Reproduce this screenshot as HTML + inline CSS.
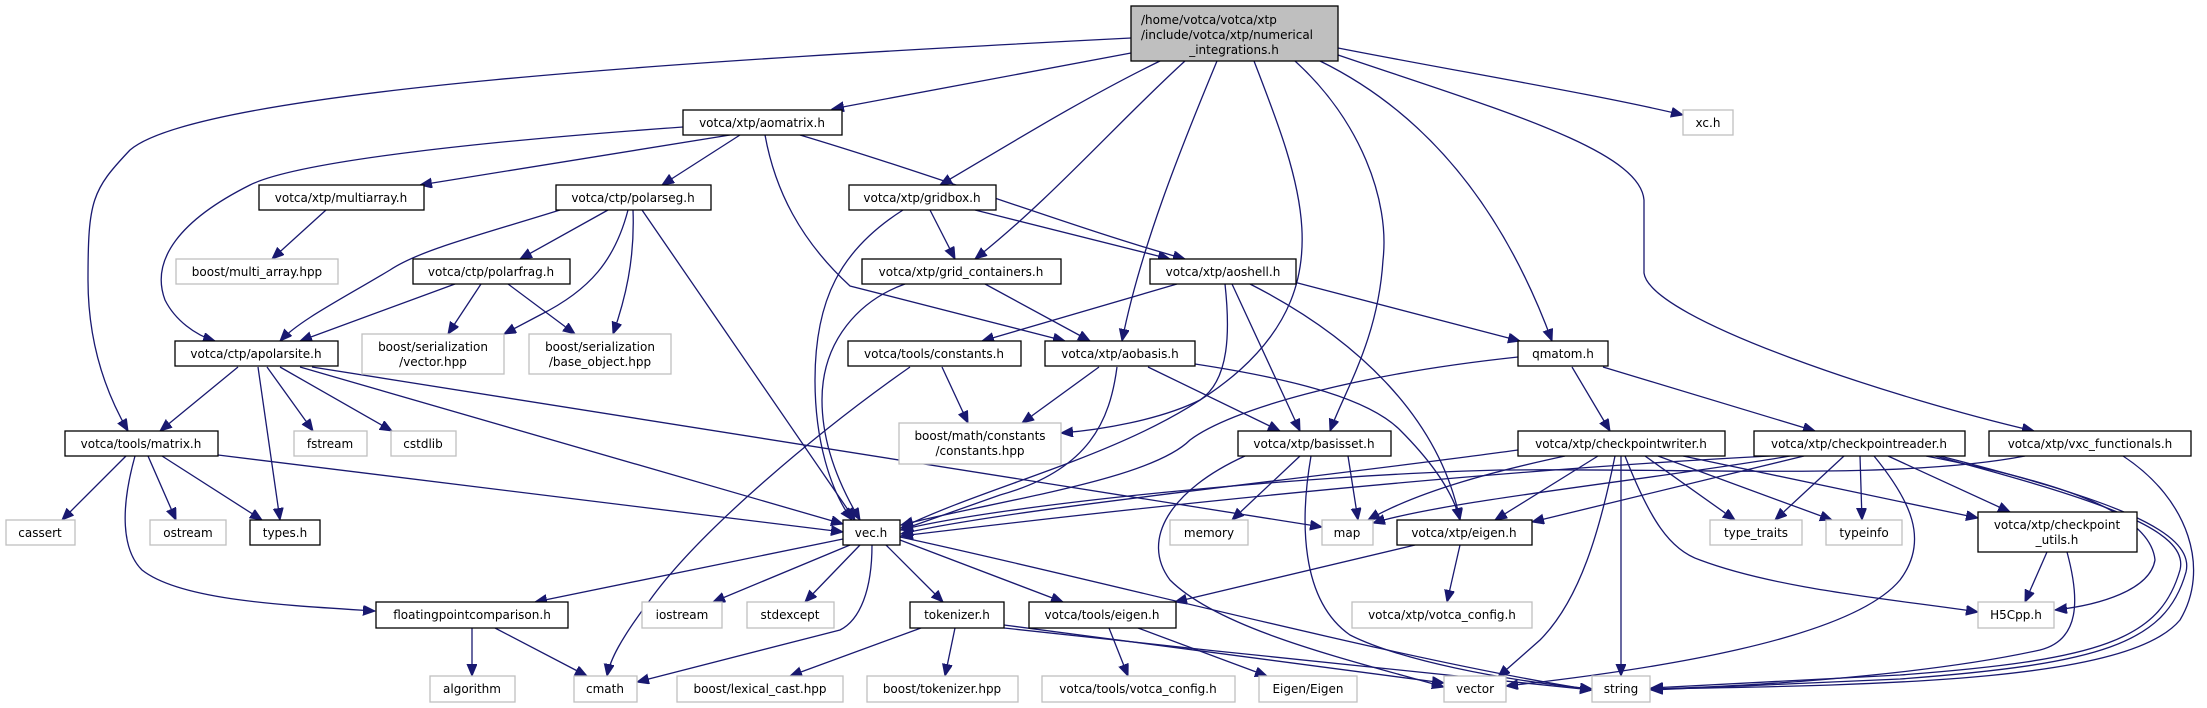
<!DOCTYPE html>
<html><head><meta charset="utf-8"><style>
html,body{margin:0;padding:0;background:#fff;}
svg{display:block;}
text{font-family:"DejaVu Sans","Liberation Sans",sans-serif;font-size:12px;fill:#000;}
.e{fill:none;stroke:#191970;stroke-width:1.3;marker-end:url(#a);}
.b{fill:#fff;stroke:#000;stroke-width:1.3;}
.g{fill:#fff;stroke:#bfbfbf;stroke-width:1.3;}
</style></head><body>
<svg width="2207" height="708" viewBox="0 0 2207 708" xmlns="http://www.w3.org/2000/svg">
<defs><marker id="a" markerUnits="userSpaceOnUse" markerWidth="14" markerHeight="12" refX="12" refY="5" orient="auto"><path d="M0,0 L12,5 L0,10 z" fill="#191970" stroke="#191970"/></marker></defs>

<!-- edges -->
<path class="e" d="M1131,38 C700,60 200,90 130,150 C92,190 88,200 88,280 C88,350 110,400 128,431"/>
<path class="e" d="M1131,53 L832,109"/>
<path class="e" d="M1160,61 C1080,100 1000,150 940,185"/>
<path class="e" d="M1185,61 C1120,120 1050,200 975,259"/>
<path class="e" d="M1217,61 C1180,150 1140,250 1122,341"/>
<path class="e" d="M1254,61 C1300,180 1340,280 1240,370 C1150,450 1000,480 901,528"/>
<path class="e" d="M1295,61 C1360,120 1390,200 1383,260 C1378,340 1345,390 1330,431"/>
<path class="e" d="M1320,61 C1420,110 1500,200 1552,341"/>
<path class="e" d="M1338,55 C1500,110 1640,150 1644,200 L1644,273 C1650,320 1900,400 2034,431"/>
<path class="e" d="M1338,48 C1450,70 1600,95 1683,115"/>

<path class="e" d="M730,135 L420,185"/>
<path class="e" d="M740,135 L662,185"/>
<path class="e" d="M800,135 C950,180 1080,230 1185,259"/>
<path class="e" d="M683,127 C500,140 300,160 250,185 C180,220 150,260 165,300 C175,320 195,335 215,341"/>
<path class="e" d="M765,135 C775,190 800,240 850,286 L1065,341"/>
<path class="e" d="M326,210 L272,259"/>
<path class="e" d="M608,210 L520,259"/>
<path class="e" d="M560,210 C480,235 420,250 390,270 C340,300 300,320 280,341"/>
<path class="e" d="M628,210 C615,260 590,290 540,315 L504,334"/>
<path class="e" d="M633,210 C635,260 625,300 613,334"/>
<path class="e" d="M642,210 L855,520"/>
<path class="e" d="M455,284 L300,341"/>
<path class="e" d="M481,284 L448,334"/>
<path class="e" d="M508,284 L575,334"/>
<path class="e" d="M930,210 L955,259"/>
<path class="e" d="M975,210 L1170,259"/>
<path class="e" d="M903,210 C840,250 815,300 815,380 C815,440 830,490 852,520"/>
<path class="e" d="M985,284 L1090,341"/>
<path class="e" d="M905,284 C860,300 822,340 822,400 C822,450 845,495 860,520"/>
<path class="e" d="M1177,284 L982,341"/>
<path class="e" d="M1225,284 C1230,330 1230,380 1200,400 C1160,420 1100,430 1061,433"/>
<path class="e" d="M1232,284 L1300,431"/>
<path class="e" d="M1250,284 C1360,340 1440,420 1460,520"/>
<path class="e" d="M1290,281 L1520,341"/>
<path class="e" d="M942,367 L968,423"/>
<path class="e" d="M910,367 C820,430 700,530 650,600 C620,640 610,660 607,676"/>
<path class="e" d="M1099,367 L1022,423"/>
<path class="e" d="M1117,367 C1110,420 1090,470 1000,495 L901,530"/>
<path class="e" d="M1148,367 L1280,431"/>
<path class="e" d="M1195,364 C1300,380 1370,400 1400,430 C1440,470 1455,500 1460,520"/>

<path class="e" d="M238,367 L160,431"/>
<path class="e" d="M258,367 L280,520"/>
<path class="e" d="M267,367 L313,431"/>
<path class="e" d="M280,367 L392,431"/>
<path class="e" d="M300,367 L843,524"/>
<path class="e" d="M312,367 C500,400 900,460 1322,527"/>
<path class="e" d="M126,456 L62,520"/>
<path class="e" d="M148,456 L176,520"/>
<path class="e" d="M162,456 L262,520"/>
<path class="e" d="M135,456 C120,510 122,550 142,570 C180,600 280,605 375,611"/>
<path class="e" d="M218,455 L843,532"/>
<path class="e" d="M1518,357 C1350,375 1230,410 1190,440 C1150,480 1000,500 901,525"/>
<path class="e" d="M1572,367 L1610,431"/>
<path class="e" d="M1603,367 L1815,431"/>
<path class="e" d="M1300,456 L1232,520"/>
<path class="e" d="M1348,456 L1358,520"/>
<path class="e" d="M1245,456 C1170,490 1140,540 1170,580 C1220,630 1350,660 1444,687"/>
<path class="e" d="M1311,456 C1300,520 1300,600 1350,635 C1400,660 1500,680 1592,689"/>

<path class="e" d="M1518,450 C1300,480 1000,510 901,534"/>
<path class="e" d="M1565,456 C1500,470 1420,490 1368,520"/>
<path class="e" d="M1598,456 L1495,520"/>
<path class="e" d="M1645,456 L1735,520"/>
<path class="e" d="M1658,456 L1832,520"/>
<path class="e" d="M1683,456 L1978,518"/>
<path class="e" d="M1625,456 C1650,520 1670,550 1700,560 C1780,590 1900,600 1978,612"/>
<path class="e" d="M1615,456 C1600,530 1580,600 1540,640 L1498,677"/>
<path class="e" d="M1621,456 L1621,676"/>
<path class="e" d="M1770,456 C1500,470 1200,500 901,536"/>
<path class="e" d="M1790,456 C1650,480 1450,500 1373,523"/>
<path class="e" d="M1804,456 L1532,522"/>
<path class="e" d="M1844,456 L1775,520"/>
<path class="e" d="M1860,456 L1862,520"/>
<path class="e" d="M1888,456 L2010,512"/>
<path class="e" d="M1926,456 C2050,480 2150,510 2155,560 C2150,590 2100,605 2055,610"/>
<path class="e" d="M1874,456 C1910,500 1930,540 1900,580 C1850,640 1650,670 1506,686"/>
<path class="e" d="M1935,456 C2100,500 2190,530 2180,570 C2160,640 2100,660 1900,675 L1651,688"/>
<path class="e" d="M1940,456 C2105,498 2196,530 2186,572 C2166,644 2100,664 1900,679 L1651,690"/>
<path class="e" d="M2025,456 C1900,480 1700,468 1500,470 C1300,475 1000,505 901,530"/>
<path class="e" d="M2123,456 C2190,500 2210,570 2180,620 C2130,680 1900,685 1651,689"/>
<path class="e" d="M2047,552 L2025,602"/>
<path class="e" d="M2067,552 C2080,600 2080,640 2040,650 C1950,670 1800,685 1651,689"/>
<path class="e" d="M1415,545 L1175,602"/>
<path class="e" d="M1460,545 L1447,602"/>

<path class="e" d="M843,539 L535,602"/>
<path class="e" d="M850,545 L713,602"/>
<path class="e" d="M860,545 L805,602"/>
<path class="e" d="M872,545 C872,590 860,620 840,630 L637,682"/>
<path class="e" d="M886,545 L943,602"/>
<path class="e" d="M900,540 L1063,602"/>
<path class="e" d="M900,537 C1100,580 1400,660 1592,690"/>
<path class="e" d="M472,628 L472,676"/>
<path class="e" d="M495,628 L587,676"/>
<path class="e" d="M921,628 L790,676"/>
<path class="e" d="M955,628 L945,676"/>
<path class="e" d="M1004,625 L1444,683"/>
<path class="e" d="M1004,628 C1200,650 1450,675 1592,690"/>
<path class="e" d="M1109,628 L1128,676"/>
<path class="e" d="M1138,628 L1267,676"/>

<!-- root -->
<rect x="1131" y="6" width="207" height="55" fill="#bfbfbf" stroke="#000" stroke-width="1.3"/>
<text x="1141" y="24">/home/votca/votca/xtp</text>
<text x="1141" y="39">/include/votca/xtp/numerical</text>
<text x="1234" y="54" text-anchor="middle">_integrations.h</text>

<!-- row1 -->
<rect class="b" x="683" y="110" width="159" height="25"/><text x="762" y="127" text-anchor="middle">votca/xtp/aomatrix.h</text>
<rect class="g" x="1683" y="110" width="50" height="25"/><text x="1708" y="127" text-anchor="middle">xc.h</text>
<!-- row2 -->
<rect class="b" x="259" y="185" width="165" height="25"/><text x="341" y="202" text-anchor="middle">votca/xtp/multiarray.h</text>
<rect class="b" x="556" y="185" width="155" height="25"/><text x="633" y="202" text-anchor="middle">votca/ctp/polarseg.h</text>
<rect class="b" x="849" y="185" width="147" height="25"/><text x="922" y="202" text-anchor="middle">votca/xtp/gridbox.h</text>
<!-- row3 -->
<rect class="g" x="176" y="259" width="162" height="25"/><text x="257" y="276" text-anchor="middle">boost/multi_array.hpp</text>
<rect class="b" x="413" y="259" width="157" height="25"/><text x="491" y="276" text-anchor="middle">votca/ctp/polarfrag.h</text>
<rect class="b" x="862" y="259" width="199" height="25"/><text x="961" y="276" text-anchor="middle">votca/xtp/grid_containers.h</text>
<rect class="b" x="1150" y="259" width="146" height="25"/><text x="1223" y="276" text-anchor="middle">votca/xtp/aoshell.h</text>
<!-- row4 -->
<rect class="b" x="175" y="341" width="163" height="25"/><text x="256" y="358" text-anchor="middle">votca/ctp/apolarsite.h</text>
<rect class="g" x="362" y="334" width="142" height="40"/><text x="433" y="351" text-anchor="middle">boost/serialization</text><text x="433" y="366" text-anchor="middle">/vector.hpp</text>
<rect class="g" x="529" y="334" width="142" height="40"/><text x="600" y="351" text-anchor="middle">boost/serialization</text><text x="600" y="366" text-anchor="middle">/base_object.hpp</text>
<rect class="b" x="848" y="341" width="173" height="25"/><text x="934" y="358" text-anchor="middle">votca/tools/constants.h</text>
<rect class="b" x="1045" y="341" width="150" height="25"/><text x="1120" y="358" text-anchor="middle">votca/xtp/aobasis.h</text>
<rect class="b" x="1518" y="341" width="90" height="25"/><text x="1563" y="358" text-anchor="middle">qmatom.h</text>
<!-- row5 -->
<rect class="b" x="65" y="431" width="153" height="25"/><text x="141" y="448" text-anchor="middle">votca/tools/matrix.h</text>
<rect class="g" x="294" y="431" width="73" height="25"/><text x="330" y="448" text-anchor="middle">fstream</text>
<rect class="g" x="391" y="431" width="65" height="25"/><text x="423" y="448" text-anchor="middle">cstdlib</text>
<rect class="g" x="899" y="423" width="162" height="41"/><text x="980" y="440" text-anchor="middle">boost/math/constants</text><text x="980" y="455" text-anchor="middle">/constants.hpp</text>
<rect class="b" x="1238" y="431" width="153" height="25"/><text x="1314" y="448" text-anchor="middle">votca/xtp/basisset.h</text>
<rect class="b" x="1518" y="431" width="207" height="25"/><text x="1621" y="448" text-anchor="middle">votca/xtp/checkpointwriter.h</text>
<rect class="b" x="1754" y="431" width="211" height="25"/><text x="1859" y="448" text-anchor="middle">votca/xtp/checkpointreader.h</text>
<rect class="b" x="1989" y="431" width="202" height="25"/><text x="2090" y="448" text-anchor="middle">votca/xtp/vxc_functionals.h</text>
<!-- row6 -->
<rect class="g" x="6" y="520" width="69" height="25"/><text x="40" y="537" text-anchor="middle">cassert</text>
<rect class="g" x="150" y="520" width="76" height="25"/><text x="188" y="537" text-anchor="middle">ostream</text>
<rect class="b" x="250" y="520" width="70" height="25"/><text x="285" y="537" text-anchor="middle">types.h</text>
<rect class="b" x="843" y="520" width="57" height="25"/><text x="871" y="537" text-anchor="middle">vec.h</text>
<rect class="g" x="1170" y="520" width="78" height="25"/><text x="1209" y="537" text-anchor="middle">memory</text>
<rect class="g" x="1322" y="520" width="51" height="25"/><text x="1347" y="537" text-anchor="middle">map</text>
<rect class="b" x="1397" y="520" width="135" height="25"/><text x="1464" y="537" text-anchor="middle">votca/xtp/eigen.h</text>
<rect class="g" x="1710" y="520" width="92" height="25"/><text x="1756" y="537" text-anchor="middle">type_traits</text>
<rect class="g" x="1826" y="520" width="76" height="25"/><text x="1864" y="537" text-anchor="middle">typeinfo</text>
<rect class="b" x="1978" y="512" width="159" height="40"/><text x="2057" y="529" text-anchor="middle">votca/xtp/checkpoint</text><text x="2057" y="544" text-anchor="middle">_utils.h</text>
<!-- row7 -->
<rect class="b" x="376" y="602" width="192" height="26"/><text x="472" y="619" text-anchor="middle">floatingpointcomparison.h</text>
<rect class="g" x="642" y="602" width="80" height="26"/><text x="682" y="619" text-anchor="middle">iostream</text>
<rect class="g" x="747" y="602" width="87" height="26"/><text x="790" y="619" text-anchor="middle">stdexcept</text>
<rect class="b" x="910" y="602" width="94" height="26"/><text x="957" y="619" text-anchor="middle">tokenizer.h</text>
<rect class="b" x="1029" y="602" width="147" height="26"/><text x="1102" y="619" text-anchor="middle">votca/tools/eigen.h</text>
<rect class="g" x="1352" y="602" width="180" height="26"/><text x="1442" y="619" text-anchor="middle">votca/xtp/votca_config.h</text>
<rect class="g" x="1978" y="602" width="76" height="26"/><text x="2016" y="619" text-anchor="middle">H5Cpp.h</text>
<!-- row8 -->
<rect class="g" x="430" y="676" width="85" height="26"/><text x="472" y="693" text-anchor="middle">algorithm</text>
<rect class="g" x="574" y="676" width="63" height="26"/><text x="605" y="693" text-anchor="middle">cmath</text>
<rect class="g" x="677" y="676" width="166" height="26"/><text x="760" y="693" text-anchor="middle">boost/lexical_cast.hpp</text>
<rect class="g" x="867" y="676" width="151" height="26"/><text x="942" y="693" text-anchor="middle">boost/tokenizer.hpp</text>
<rect class="g" x="1042" y="676" width="193" height="26"/><text x="1138" y="693" text-anchor="middle">votca/tools/votca_config.h</text>
<rect class="g" x="1259" y="676" width="98" height="26"/><text x="1308" y="693" text-anchor="middle">Eigen/Eigen</text>
<rect class="g" x="1444" y="676" width="62" height="26"/><text x="1475" y="693" text-anchor="middle">vector</text>
<rect class="g" x="1592" y="676" width="58" height="26"/><text x="1621" y="693" text-anchor="middle">string</text>
</svg>
</body></html>
